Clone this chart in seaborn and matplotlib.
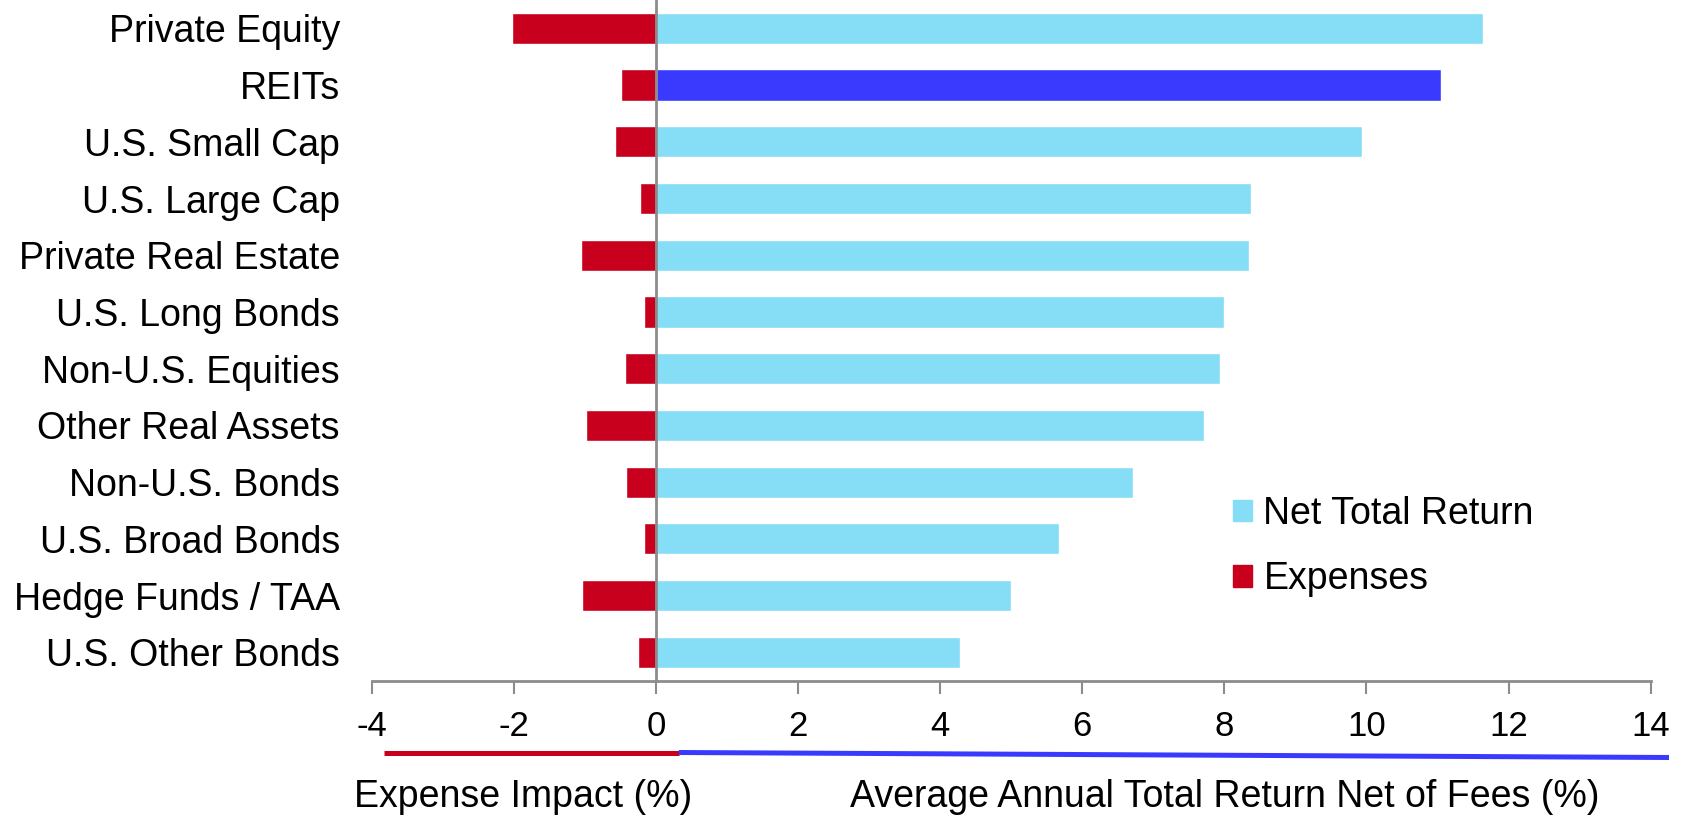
import matplotlib
matplotlib.use("Agg")
import matplotlib.pyplot as plt
from matplotlib.patches import Patch
from matplotlib.lines import Line2D
import seaborn as sns
import pandas as pd

categories = ["Private Equity", "REITs", "U.S. Small Cap", "U.S. Large Cap",
              "Private Real Estate", "U.S. Long Bonds", "Non-U.S. Equities",
              "Other Real Assets", "Non-U.S. Bonds", "U.S. Broad Bonds",
              "Hedge Funds / TAA", "U.S. Other Bonds"]
net_return = [11.64, 11.05, 9.94, 8.38, 8.35, 8.00, 7.94, 7.71, 6.71, 5.67, 5.00, 4.28]
expenses = [-2.03, -0.49, -0.57, -0.22, -1.06, -0.17, -0.44, -0.99, -0.42, -0.17, -1.04, -0.25]
x_ticks = [-4, -2, 0, 2, 4, 6, 8, 10, 12, 14]

light_blue = "#85DDF6"
reit_blue = "#3A3AFF"
red = "#C8001E"
grey = "#8C8C8C"

df = pd.DataFrame({"category": categories, "net": net_return, "exp": expenses})

sns.set_theme(style="white")
plt.rcParams["font.family"] = ["Liberation Sans", "DejaVu Sans"]
plt.rcParams["text.color"] = "black"

fig = plt.figure(figsize=(16.85, 8.16), dpi=100)
ax = fig.add_axes([0.2206, 0.1658, 0.759, 0.8342])

# colour per bar: REITs highlighted
pal = {c: (reit_blue if c == "REITs" else light_blue) for c in categories}
sns.barplot(data=df, x="net", y="category", hue="category", palette=pal,
            order=categories, width=0.55, saturation=1, legend=False, ax=ax)
sns.barplot(data=df, x="exp", y="category", color=red, order=categories,
            width=0.55, saturation=1, ax=ax)

ax.set_xlim(-4, 14)
ax.set_ylim(11.5, -0.5)
ax.axvline(0, color=grey, lw=2, zorder=5)
ax.set_xticks(x_ticks)
ax.set_xticklabels([str(t) for t in x_ticks])
ax.set_xlabel("")
ax.set_ylabel("")
for s in ["top", "right", "left"]:
    ax.spines[s].set_visible(False)
ax.spines["bottom"].set_color(grey)
ax.spines["bottom"].set_linewidth(2)
ax.tick_params(axis="x", bottom=True, length=9, width=1.5, color=grey,
               labelsize=25, pad=12, labelcolor="black")
ax.tick_params(axis="y", left=False, labelsize=27, pad=17, labelcolor="black")

handles = [Patch(color=light_blue, label="Net Total Return"),
           Patch(color=red, label="Expenses")]
fig.legend(handles=handles, loc="center left", bbox_to_anchor=(0.7318, 0.3303),
           frameon=False, fontsize=27, handlelength=0.51, handleheight=0.51,
           handletextpad=0.3, labelspacing=0.78, borderpad=0, borderaxespad=0,
           labelcolor="black")

# colour bars under the axis
W, H = 1685, 816
fig.add_artist(Line2D([383.7 / W, 678.8 / W], [1 - 752.5 / H, 1 - 752.5 / H],
                      color=red, lw=3.6, solid_capstyle="butt"))
fig.add_artist(Line2D([678.8 / W, 1669 / W], [1 - 752.5 / H, 1 - 757.5 / H],
                      color=reit_blue, lw=3.6, solid_capstyle="butt"))

fig.text(354 / W, 1 - 797 / H, "Expense Impact (%)", fontsize=27,
         ha="left", va="center", color="black")
fig.text(850 / W, 1 - 797 / H, "Average Annual Total Return Net of Fees (%)",
         fontsize=27, ha="left", va="center", color="black")

fig.savefig("out.png", dpi=100)
